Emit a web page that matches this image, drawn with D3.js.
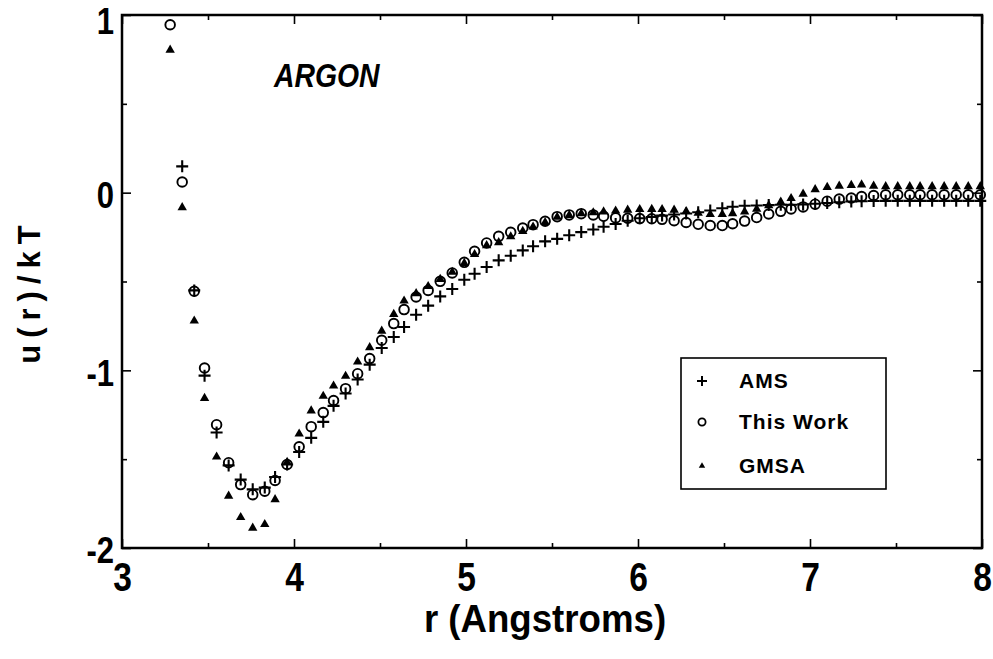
<!DOCTYPE html>
<html>
<head>
<meta charset="utf-8">
<script src="https://cdn.jsdelivr.net/npm/d3@7"></script>
<style>
  body { margin: 0; background: #fff; }
  svg text { font-family: "Liberation Sans", Arial, sans-serif; font-weight: bold; fill: #000; }
</style>
</head>
<body>
<svg id="chart" width="993" height="659"></svg>
<script>
// separation r (Angstroms)
const R = [3.28, 3.35, 3.42, 3.48, 3.55, 3.62, 3.69, 3.76, 3.83, 3.89,
           3.96, 4.03, 4.10, 4.17, 4.23, 4.30, 4.37, 4.44, 4.51, 4.58,
           4.64, 4.71, 4.78, 4.85, 4.92, 4.99, 5.05, 5.12, 5.19, 5.26,
           5.33, 5.39, 5.46, 5.53, 5.60, 5.67, 5.74, 5.80, 5.87, 5.94,
           6.01, 6.08, 6.14, 6.21, 6.28, 6.35, 6.42, 6.49, 6.55, 6.62,
           6.69, 6.76, 6.83, 6.89, 6.96, 7.03, 7.10, 7.17, 7.24, 7.30,
           7.37, 7.44, 7.51, 7.58, 7.64, 7.71, 7.78, 7.85, 7.92, 7.99];

// u(r)/kT, AMS (+); first point lies above the frame
const AMS = [null, 0.148, -0.55, -1.03, -1.35, -1.535, -1.615, -1.67, -1.66, -1.60,
             -1.53, -1.46, -1.38, -1.29, -1.20, -1.13, -1.052, -0.968, -0.874, -0.812,
             -0.756, -0.687, -0.636, -0.584, -0.542, -0.49, -0.456, -0.418, -0.381, -0.355,
             -0.325, -0.302, -0.274, -0.26, -0.24, -0.222, -0.207, -0.192, -0.176, -0.158,
             -0.144, -0.137, -0.129, -0.123, -0.117, -0.11, -0.1, -0.088, -0.079, -0.074,
             -0.072, -0.07, -0.068, -0.068, -0.066, -0.062, -0.058, -0.054, -0.05, -0.048,
             -0.047, -0.046, -0.046, -0.046, -0.046, -0.046, -0.046, -0.046, -0.046, -0.046];

// u(r)/kT, This Work (o)
const THIS_WORK = [0.945, 0.06, -0.555, -0.987, -1.306, -1.52, -1.643, -1.70, -1.68, -1.62,
                   -1.53, -1.43, -1.317, -1.238, -1.17, -1.103, -1.019, -0.934, -0.831, -0.737,
                   -0.658, -0.587, -0.55, -0.499, -0.452, -0.392, -0.33, -0.283, -0.246, -0.223,
                   -0.199, -0.18, -0.161, -0.135, -0.125, -0.118, -0.125, -0.133, -0.142, -0.144,
                   -0.146, -0.147, -0.15, -0.158, -0.168, -0.178, -0.185, -0.185, -0.175, -0.16,
                   -0.14, -0.12, -0.105, -0.092, -0.08, -0.065, -0.048, -0.036, -0.03, -0.022,
                   -0.016, -0.012, -0.012, -0.012, -0.012, -0.012, -0.012, -0.012, -0.012, -0.012];

// u(r)/kT, GMSA (filled triangle)
const GMSA = [0.80, -0.086, -0.724, -1.16, -1.49, -1.71, -1.83, -1.89, -1.87, -1.73,
              -1.52, -1.36, -1.23, -1.148, -1.09, -1.035, -0.955, -0.874, -0.781, -0.687,
              -0.612, -0.57, -0.53, -0.49, -0.45, -0.40, -0.35, -0.30, -0.283, -0.25,
              -0.22, -0.195, -0.17, -0.14, -0.13, -0.12, -0.115, -0.11, -0.105, -0.1,
              -0.097, -0.096, -0.097, -0.1, -0.108, -0.118, -0.125, -0.125, -0.12, -0.11,
              -0.095, -0.075, -0.055, -0.035, -0.01, 0.015, 0.028, 0.035, 0.039, 0.042,
              0.035, 0.032, 0.032, 0.032, 0.032, 0.032, 0.032, 0.032, 0.032, 0.032];

const X_TICKS = [3, 4, 5, 6, 7, 8];
const X_MINOR = [3.5, 4.5, 5.5, 6.5, 7.5];
const Y_TICKS = [1, 0, -1, -2];
const Y_MINOR = [0.5, -0.5, -1.5];
const LEGEND = ['AMS', 'This Work', 'GMSA'];

const svg = d3.select('#chart');
const L = 122, Rt = 982, T = 15, B = 548;
const x = d3.scaleLinear().domain([3, 8]).range([L, Rt]);
const y = d3.scaleLinear().domain([-2, 1]).range([B, T]);
const NARROW = 0.84; // the original tick digits are a condensed sans

// frame
svg.append('rect').attr('x', L).attr('y', T).attr('width', Rt - L).attr('height', B - T)
  .attr('fill', 'none').attr('stroke', '#000').attr('stroke-width', 2.5);

function tickAxis(axis, tr, size) {
  const g = svg.append('g').attr('transform', tr).call(axis.tickSizeInner(size).tickSizeOuter(0));
  g.select('.domain').remove();
  g.selectAll('.tick line').attr('stroke', '#000').attr('stroke-width', 1.6);
  return g;
}

// minor ticks, all four sides
tickAxis(d3.axisBottom(x).tickValues(X_MINOR).tickFormat(''), `translate(0,${B})`, -5);
tickAxis(d3.axisTop(x).tickValues(X_MINOR).tickFormat(''), `translate(0,${T})`, -5);
tickAxis(d3.axisLeft(y).tickValues(Y_MINOR).tickFormat(''), `translate(${L},0)`, -5);
tickAxis(d3.axisRight(y).tickValues(Y_MINOR).tickFormat(''), `translate(${Rt},0)`, -5);

// major ticks with labels
const gx = tickAxis(d3.axisBottom(x).tickValues(X_TICKS).tickFormat(d3.format('d')).tickPadding(15), `translate(0,${B})`, -9);
gx.selectAll('text').attr('font-size', 40).attr('fill', '#000')
  .attr('transform', `scale(${NARROW},1)`);
tickAxis(d3.axisTop(x).tickValues(X_TICKS).tickFormat(''), `translate(0,${T})`, -9);
const gy = tickAxis(d3.axisLeft(y).tickValues(Y_TICKS).tickFormat(d => d < 0 ? '-' + Math.abs(d) : d).tickPadding(8), `translate(${L},0)`, -9);
gy.selectAll('text').attr('font-size', 37).attr('fill', '#000')
  .attr('dy', d => d === 1 ? '0.5em' : '0.4em')
  .attr('transform', `scale(${NARROW},1)`).attr('x', -8 / NARROW);
tickAxis(d3.axisRight(y).tickValues(Y_TICKS).tickFormat(''), `translate(${Rt},0)`, -9);
svg.selectAll('.tick text').attr('font-family', null).attr('font-weight', 'bold');

// axis titles
svg.append('text').attr('transform', 'translate(545,632) scale(0.94,1)')
  .attr('text-anchor', 'middle').attr('font-size', 39).text('r (Angstroms)');
svg.append('text').attr('transform', 'translate(40,291) rotate(-90)')
  .attr('text-anchor', 'middle').attr('font-size', 31).attr('letter-spacing', 7).text('u(r)/kT');
svg.append('text').attr('transform', 'translate(274,87) scale(0.86,1)')
  .attr('font-size', 33).attr('font-style', 'italic').text('ARGON');

// data
const pts = (vals) => R.map((r, i) => ({ r, v: vals[i] })).filter(d => d.v !== null);
const triPath = d3.symbol().type(d3.symbolTriangle).size(38)();
const triSmall = d3.symbol().type(d3.symbolTriangle).size(18)();
const plusPath = 'M-6,0H6M0,-6V6';

const plot = svg.append('g');
plot.selectAll('path.gmsa').data(pts(GMSA)).join('path').attr('class', 'gmsa')
  .attr('d', triPath).attr('fill', '#000')
  .attr('transform', d => `translate(${x(d.r)},${y(d.v) - 0.5})`);
plot.selectAll('circle.tw').data(pts(THIS_WORK)).join('circle').attr('class', 'tw')
  .attr('cx', d => x(d.r)).attr('cy', d => y(d.v)).attr('r', 4.8)
  .attr('fill', 'none').attr('stroke', '#000').attr('stroke-width', 1.9);
plot.selectAll('path.ams').data(pts(AMS)).join('path').attr('class', 'ams')
  .attr('d', plusPath).attr('fill', 'none').attr('stroke', '#000').attr('stroke-width', 2.1)
  .attr('transform', d => `translate(${x(d.r)},${y(d.v)})`);

// legend
const lg = svg.append('g').attr('transform', 'translate(681,358)');
lg.append('rect').attr('width', 205).attr('height', 131)
  .attr('fill', '#fff').attr('stroke', '#000').attr('stroke-width', 1.6);
const rows = lg.selectAll('g.row').data(LEGEND).join('g').attr('class', 'row')
  .attr('transform', (d, i) => `translate(0,${[23, 64, 108][i]})`);
rows.append('text').attr('x', 58).attr('y', 7).attr('font-size', 21).attr('letter-spacing', 1).text(d => d);
rows.filter((d, i) => i === 0).append('path').attr('d', 'M-5,0H5M0,-5V5')
  .attr('transform', 'translate(21,0)').attr('stroke', '#000').attr('stroke-width', 2);
rows.filter((d, i) => i === 1).append('circle').attr('cx', 21).attr('cy', 0).attr('r', 3.6)
  .attr('fill', 'none').attr('stroke', '#000').attr('stroke-width', 1.8);
rows.filter((d, i) => i === 2).append('path').attr('d', triSmall)
  .attr('transform', 'translate(21,0)').attr('fill', '#000');
</script>
</body>
</html>
